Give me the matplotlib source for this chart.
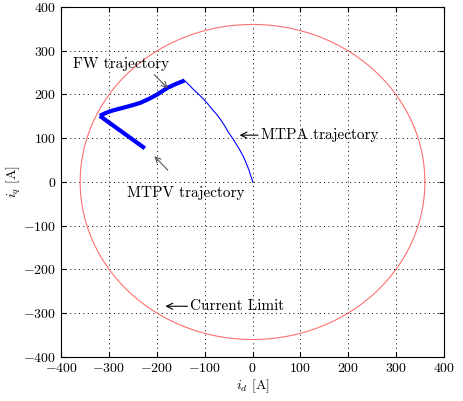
import numpy as np
import matplotlib
matplotlib.use("Agg")
import matplotlib.pyplot as plt

plt.rcParams['font.family'] = ['cmr10', 'DejaVu Serif']
plt.rcParams['mathtext.fontset'] = 'cm'
plt.rcParams['axes.unicode_minus'] = False
plt.rcParams['axes.formatter.use_mathtext'] = True

# Data
current_limit = 360.0
mtpa_id = [0, -1, -4, -7, -11, -15, -20, -26, -32, -40, -50, -58, -67, -76, -85, -93, -102, -112, -122, -132, -142]
mtpa_iq = [0, 6, 15, 26, 37, 48, 60, 72, 83, 97, 113, 128, 143, 156, 167, 178, 189, 200, 210, 221, 232]
fw_id = [-142, -160, -178, -199, -216, -234, -252, -269, -283, -296, -308, -319]
fw_iq = [232, 224, 215, 200, 190, 181, 175, 170, 166, 162, 157, 151]
mtpv_id = [-319, -272, -225]
mtpv_iq = [151, 114, 77]
theta = np.linspace(0, 2 * np.pi, 400)

fig = plt.figure(figsize=(4.64, 4.01), dpi=100)
ax = fig.add_axes([0.1315, 0.1097, 0.8255, 0.873])

ax.plot(current_limit * np.cos(theta), current_limit * np.sin(theta), color='#ff7070', lw=0.8)
ax.plot(mtpa_id, mtpa_iq, color='blue', lw=0.8)
ax.plot(fw_id, fw_iq, color='blue', lw=3, solid_capstyle='butt')
ax.plot(mtpv_id, mtpv_iq, color='blue', lw=3, solid_capstyle='butt')

ax.set_xlim(-400, 400)
ax.set_ylim(-400, 400)
ax.set_xticks(np.arange(-400, 401, 100))
ax.set_yticks(np.arange(-400, 401, 100))
ax.grid(True, color='black', linestyle=(0, (1, 3.5)), lw=0.7)
ax.tick_params(direction='in', top=True, right=True, labelsize=10)
for s in ax.spines.values():
    s.set_linewidth(0.8)
ax.set_xlabel(r'$i_d$ [A]', fontsize=10, labelpad=2)
ax.set_ylabel(r'$i_q$ [A]', fontsize=10)
ax.yaxis.set_label_coords(-0.10, 0.5)

gray = dict(arrowstyle='->', color='#555555', lw=0.8, shrinkA=0, shrinkB=0)
black = dict(arrowstyle='->', color='black', lw=0.8, shrinkA=0, shrinkB=0)

ax.text(-376, 270, 'FW trajectory', fontsize=11, va='center', ha='left')
ax.annotate('', xy=(-177, 214), xytext=(-205, 245), arrowprops=gray)
ax.text(-140, -25, 'MTPV trajectory', fontsize=11, va='center', ha='center')
ax.annotate('', xy=(-205, 59), xytext=(-177, 27), arrowprops=gray)
ax.annotate('MTPA trajectory', xy=(-27, 107), xytext=(17, 107), fontsize=11,
            va='center', ha='left', arrowprops=black)
ax.annotate('Current Limit', xy=(-182, -284), xytext=(-130, -284), fontsize=11,
            va='center', ha='left', arrowprops=black)

fig.savefig('out.png', dpi=100)
